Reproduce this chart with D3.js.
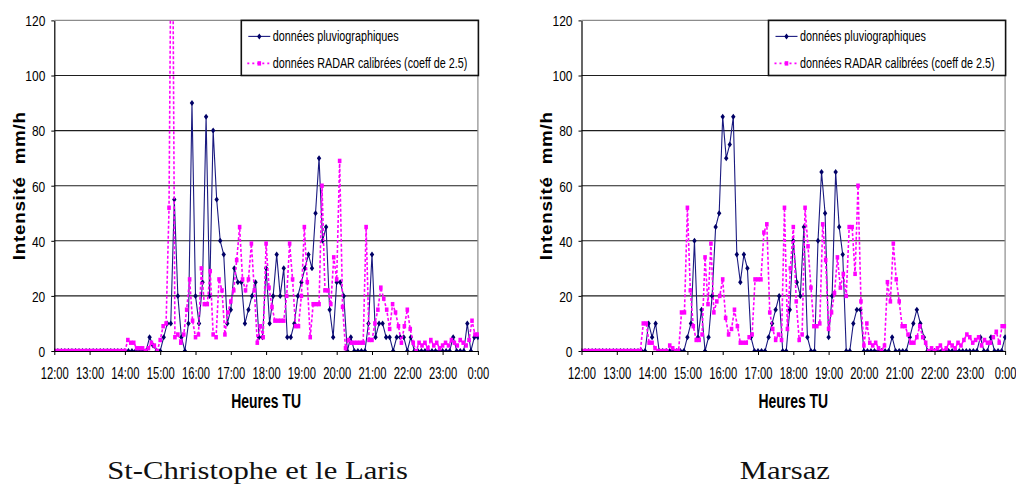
<!DOCTYPE html>
<html><head><meta charset="utf-8">
<script src="https://cdn.jsdelivr.net/npm/d3@7"></script>
<style>body{margin:0;background:#fff}svg{display:block}</style>
</head><body><svg id="c" width="1016" height="485"></svg>
<script>
// ---------- data ----------
const hourLabels = ["12:00","13:00","14:00","15:00","16:00","17:00","18:00","19:00","20:00","21:00","22:00","23:00","0:00"];
const yTickValues = [0,20,40,60,80,100,120];
const stationNames = ["St-Christophe et le Laris","Marsaz"];
const legendLabels = ["données pluviographiques","données RADAR calibrées (coeff de 2.5)"];
const axisTitleY = "Intensité  mm/h";
const axisTitleX = "Heures TU";
const pluvioStepMin = 6;   // rain gauge: one value every 6 minutes, 12:00 -> 0:00
const radarStepMin = 5;    // radar: one value every 5 minutes, 12:00 -> 0:00

const pluvioStChristophe = [
  0,0,0,0,0,0,0,0,0,0,
  0,0,0,0,0,0,0,0,0,0,
  0,0,0,0,0,0,0,5,2,0,
  0,5,10,10,55,20,5,0,10,90,
  20,10,25,85,20,80,55,40,35,10,
  15,30,25,25,10,15,20,25,5,5,
  30,10,20,35,20,30,5,5,10,20,
  25,30,35,30,50,70,40,45,15,5,
  25,25,20,0,5,0,0,0,0,10,
  35,5,10,10,5,5,0,5,5,5,
  0,5,0,0,0,0,0,0,0,0,
  0,0,0,5,0,0,0,10,0,5,
  5
];
const radarStChristophe = [
  0,0,0,0,0,0,0,0,0,0,0,0,
  0,0,0,0,0,0,0,0,0,0,0,0,
  0,4,3,3,1,1,1,0,1,3,2,0,
  4,9,10,52,200,5,6,3,6,15,26,11,
  5,6,30,17,17,29,6,5,26,22,6,14,
  18,22,33,45,26,22,26,39,22,3,9,5,
  39,23,16,11,11,11,11,20,39,26,9,9,
  20,45,25,5,17,17,17,60,22,22,17,34,
  26,69,16,1,4,3,3,3,3,3,45,4,
  4,10,15,23,19,15,8,17,14,9,3,9,
  15,8,3,0,3,2,3,1,4,2,3,1,
  2,3,2,4,3,2,4,3,2,4,11,6,
  6
];
const pluvioMarsaz = [
  0,0,0,0,0,0,0,0,0,0,
  0,0,0,0,0,0,0,0,0,10,
  5,10,0,0,0,0,0,0,0,0,
  5,10,40,5,15,0,5,20,45,50,
  85,70,75,85,35,25,35,30,5,0,
  0,0,0,5,10,15,20,0,0,15,
  40,25,20,45,5,0,0,40,65,50,
  5,20,65,45,35,0,0,10,15,15,
  0,0,0,0,0,0,0,0,5,0,
  0,0,0,5,10,15,10,5,0,0,
  0,0,0,0,0,0,0,0,0,0,
  0,0,0,5,0,0,5,0,0,0,
  5
];
const radarMarsaz = [
  0,0,0,0,0,0,0,0,0,0,0,0,
  0,0,0,0,0,0,0,0,0,10,10,3,
  3,1,0,0,0,0,2,1,0,0,14,14,
  52,22,9,4,4,6,34,17,39,14,18,20,
  26,12,6,8,15,9,3,3,3,5,6,26,
  26,26,43,46,14,8,4,6,4,52,8,30,
  45,18,4,6,52,38,23,9,9,10,46,33,
  8,14,21,34,23,28,20,45,45,28,60,18,
  2,10,3,2,3,1,0,2,25,18,39,26,
  18,9,9,6,3,3,5,9,5,3,0,1,
  0,1,2,0,1,3,2,1,3,2,4,6,
  5,3,4,5,2,4,3,3,5,7,3,9,
  9
];

// ---------- drawing ----------
const svg = d3.select("#c");
svg.append("rect").attr("width",1016).attr("height",485).attr("fill","#fff");
const defs = svg.append("defs");
const SANS = "'Liberation Sans', Arial, sans-serif";
const SERIF = "'Liberation Serif', 'Times New Roman', serif";
const PLOT_W = 423.6, PLOT_TOP = 20.4, PLOT_BOTTOM = 351;

function panel(idx, x0, pluvio, radar, station) {
  const x = d3.scaleLinear().domain([0, 720]).range([x0, x0 + PLOT_W]);
  const y = d3.scaleLinear().domain([0, 120]).range([PLOT_BOTTOM, PLOT_TOP]);
  const g = svg.append("g");

  defs.append("clipPath").attr("id", "clip" + idx)
    .append("rect").attr("x", x0).attr("y", PLOT_TOP - 0.5)
    .attr("width", PLOT_W + 1).attr("height", PLOT_BOTTOM - PLOT_TOP + 1);

  // gridlines
  g.append("g").selectAll("line").data(yTickValues.filter(v => v > 0 && v < 120)).join("line")
    .attr("x1", x0).attr("x2", x0 + PLOT_W)
    .attr("y1", d => y(d)).attr("y2", d => y(d))
    .attr("stroke", "#1e1e1e").attr("stroke-width", 1.1);
  // plot border (top + right, grey)
  g.append("path")
    .attr("d", `M${x0},${y(120)}H${x0 + PLOT_W}V${y(0)}`)
    .attr("fill", "none").attr("stroke", "#8c8c8c").attr("stroke-width", 1.2);

  const series = g.append("g").attr("clip-path", `url(#clip${idx})`);
  const pData = pluvio.map((v, i) => ({ t: i * pluvioStepMin, v }));
  const rData = radar.map((v, i) => ({ t: i * radarStepMin, v }));

  // rain gauge series
  series.append("path").datum(pData)
    .attr("d", d3.line().x(d => x(d.t)).y(d => y(d.v)))
    .attr("fill", "none").attr("stroke", "#1a1a80").attr("stroke-width", 1.1);
  series.append("g").selectAll("path").data(pData).join("path")
    .attr("d", d => `M${x(d.t)},${y(d.v) - 3}l2.2,3l-2.2,3l-2.2,-3z`)
    .attr("fill", "#000066");

  // radar series
  series.append("path").datum(rData)
    .attr("d", d3.line().x(d => x(d.t)).y(d => y(d.v)))
    .attr("fill", "none").attr("stroke", "#ff00ff").attr("stroke-width", 1.6)
    .attr("stroke-dasharray", "3,2");
  series.append("g").selectAll("rect").data(rData).join("rect")
    .attr("x", d => x(d.t) - 1.8).attr("y", d => y(d.v) - 2.2)
    .attr("width", 3.6).attr("height", 4.4).attr("fill", "#ff00ff");

  // axes
  const xAxis = d3.axisBottom(x).tickValues(d3.range(0, 721, 60))
    .tickFormat((d, i) => hourLabels[i]).tickSize(4).tickSizeOuter(0);
  const gx = g.append("g").attr("transform", `translate(0,${PLOT_BOTTOM})`).call(xAxis);
  gx.select(".domain").attr("stroke", "#000").attr("stroke-width", 1.2);
  gx.selectAll(".tick line").attr("stroke", "#000");
  gx.selectAll(".tick text")
    .attr("y", 0).attr("dy", null)
    .attr("transform", "translate(0,27.5) scale(0.68,1)")
    .attr("font-family", SANS).attr("font-size", 16.5).attr("fill", "#000");

  const yAxis = d3.axisLeft(y).tickValues(yTickValues).tickSize(3).tickSizeOuter(0);
  const gy = g.append("g").attr("transform", `translate(${x0},0)`).call(yAxis);
  gy.select(".domain").attr("stroke", "#000").attr("stroke-width", 1.2);
  gy.selectAll(".tick line").attr("stroke", "#000");
  gy.selectAll(".tick text")
    .attr("x", 0).attr("dy", null)
    .attr("transform", "translate(-9,5.3) scale(0.8,1)")
    .attr("font-family", SANS).attr("font-size", 15).attr("fill", "#000");

  // axis titles
  g.append("text")
    .attr("transform", `translate(${x0 - 29.5},${(PLOT_TOP + PLOT_BOTTOM) / 2}) rotate(-90) scale(1.18,1)`)
    .attr("text-anchor", "middle").attr("font-family", SANS).attr("font-weight", "bold")
    .attr("font-size", 16).attr("letter-spacing", 0.6)
    .style("white-space", "pre").attr("xml:space", "preserve").text(axisTitleY);
  g.append("text")
    .attr("transform", `translate(${x0 + PLOT_W / 2},408) scale(0.68,1)`)
    .attr("text-anchor", "middle").attr("font-family", SANS).attr("font-weight", "bold")
    .attr("font-size", 20.5).text(axisTitleX);

  // legend
  const lx = x0 + 187, ly = PLOT_TOP, lw = PLOT_W - 186.5, lh = y(100) - PLOT_TOP;
  const lg = g.append("g");
  lg.append("rect").attr("x", lx).attr("y", ly).attr("width", lw).attr("height", lh)
    .attr("fill", "#fff").attr("stroke", "#111").attr("stroke-width", 1.6);
  const rows = [ly + 16, ly + 43];
  lg.append("line").attr("x1", lx + 7).attr("x2", lx + 29).attr("y1", rows[0]).attr("y2", rows[0])
    .attr("stroke", "#1a1a80").attr("stroke-width", 1.1);
  lg.append("path").attr("d", `M${lx + 18},${rows[0] - 3}l2.2,3l-2.2,3l-2.2,-3z`).attr("fill", "#000066");
  lg.append("line").attr("x1", lx + 6).attr("x2", lx + 30).attr("y1", rows[1]).attr("y2", rows[1])
    .attr("stroke", "#ff00ff").attr("stroke-width", 1.6).attr("stroke-dasharray", "2,3");
  lg.append("rect").attr("x", lx + 16.2).attr("y", rows[1] - 2.2).attr("width", 3.6).attr("height", 4.4).attr("fill", "#ff00ff");
  legendLabels.forEach((t, i) => {
    lg.append("text").attr("transform", `translate(${lx + 31.5},${rows[i] + 5}) scale(0.72,1)`)
      .attr("font-family", SANS).attr("font-size", 15).text(t);
  });

  // station caption
  svg.append("text")
    .attr("transform", `translate(${x0 + PLOT_W / 2 - 8.5},479) scale(1.18,1)`)
    .attr("text-anchor", "middle").attr("font-family", SERIF).attr("font-size", 26)
    .attr("fill", "#111").text(station);
}

panel(0, 54.3, pluvioStChristophe, radarStChristophe, stationNames[0]);
panel(1, 581.5, pluvioMarsaz, radarMarsaz, stationNames[1]);
</script>
</body></html>
